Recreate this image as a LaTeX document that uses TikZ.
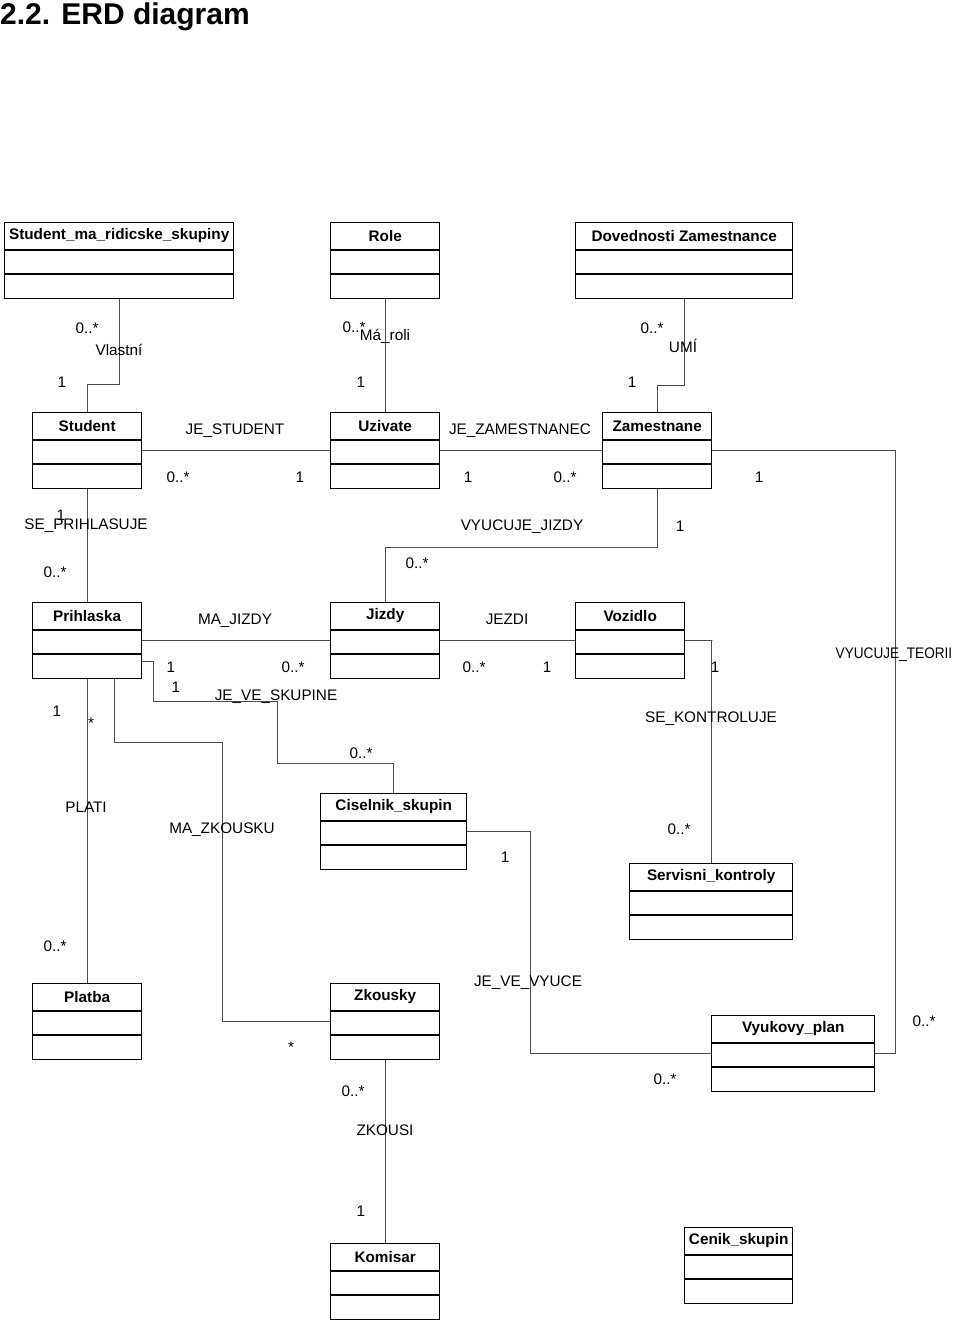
\documentclass[tikz,border=0pt]{standalone}
\usepackage{fontspec}
\setmainfont{Liberation Sans}
\usepackage{tikz}
\usetikzlibrary{calc}

\begin{document}
\begin{tikzpicture}[x=1pt, y=-1pt, every node/.style={font=\fontsize{15.3}{18}\selectfont}]
  % -----------------------------
  % SETTINGS
  % -----------------------------
  \def\hh{28}   % header height
  \def\ch{24}   % compartment height

  % -----------------------------
  % STYLES
  % -----------------------------
  \tikzset{
    ent/.style={draw=black, line width=1.4pt, inner sep=0pt, minimum height=76pt, anchor=north west},
    enttitle/.style={font=\fontsize{15.3}{18}\selectfont\bfseries, inner sep=0pt},
    entline/.style={black, line width=1.4pt},
    conn/.style={black!70, line width=1.2pt},
    lbl/.style={inner sep=0pt, text height=11pt, text depth=0pt},
  }

  \useasboundingbox (0,0) rectangle (960,1323);

  % Heading
  \node[font=\fontsize{30}{36}\selectfont\bfseries, inner sep=0pt, anchor=base west] (head) at (0,24) {2.2. ERD diagram};

  % -----------------------------
  % ENTITIES (left x, top y, width)
  % -----------------------------
  \foreach \n/\x/\y/\w/\t in {
      smrs/4/222/229/Student\_ma\_ridicske\_skupiny,
      role/330/222/109/Role,
      dov/575/222/217/Dovednosti Zamestnance,
      student/32/412/109/Student,
      uziv/330/412/109/Uzivate,
      zam/602/412/109/Zamestnane,
      prih/32/602/109/Prihlaska,
      jizdy/330/602/109/Jizdy,
      voz/575/602/109/Vozidlo,
      cis/320/793/146/Ciselnik\_skupin,
      serv/629/863/163/Servisni\_kontroly,
      platba/32/983/109/Platba,
      zkou/330/983/109/Zkousky,
      vyuk/711/1015/163/Vyukovy\_plan,
      komis/330/1243/109/Komisar,
      cenik/684/1227/108/Cenik\_skupin} {
    \node[ent, minimum width=\w pt] (\n) at (\x,\y) {};
    \node[enttitle] (\n-t) at ($(\n.north)+(0,14)$) {\t};
    \draw[entline] ($(\n.north west)+(0,\hh)$) -- ($(\n.north east)+(0,\hh)$);
    \draw[entline] ($(\n.north west)+(0,\hh+\ch)$) -- ($(\n.north east)+(0,\hh+\ch)$);
  }

  % -----------------------------
  % RELATIONSHIPS
  % -----------------------------
  \draw[conn] (smrs.south) -- ++(0,85) -| (student.north);
  \draw[conn] (role.south) -- (uziv.north);
  \draw[conn] (dov.south) -- ++(0,86) -| (zam.north);
  \draw[conn] (student.east) -- (uziv.west);
  \draw[conn] (uziv.east) -- (zam.west);
  \draw[conn] (zam.south) -- ++(0,58) -| (jizdy.north);
  \draw[conn] (student.south) -- (prih.north);
  \draw[conn] (zam.east) -- ++(183,0) |- (vyuk.east);
  \draw[conn] (prih.east) -- (jizdy.west);
  \draw[conn] (jizdy.east) -- (voz.west);
  \draw[conn] (voz.east) -- ++(27,0) -| (serv.north);
  \draw[conn] ($(prih.south east)+(0,-18)$) -- ++(11,0) -- ++(0,40) -- ++(124,0) -- ++(0,62) -| (cis.north);
  \draw[conn] (prih.south) -- (platba.north);
  \draw[conn] ($(prih.south)+(27.5,0)$) -- ++(0,63) -- ++(108,0) |- (zkou.west);
  \draw[conn] (cis.east) -- ++(63,0) |- (vyuk.west);
  \draw[conn] (zkou.south) -- (komis.north);

  % Relationship names
  \foreach [count=\k] \x/\y/\t in {
      119/350/Vlastní, 385/335/Má\_roli, 683/347/UMÍ,
      235/429/JE\_STUDENT, 520/429/JE\_ZAMESTNANEC,
      86/524/SE\_PRIHLASUJE, 522/525/VYUCUJE\_JIZDY,
      235/619/MA\_JIZDY, 507/619/JEZDI, 894/653/{\scalebox{0.89}[1]{VYUCUJE\_TEORII}},
      276/695/JE\_VE\_SKUPINE, 711/717/SE\_KONTROLUJE,
      86/807/PLATI, 222/828/MA\_ZKOUSKU, 528/981/JE\_VE\_VYUCE,
      385/1130/ZKOUSI} {
    \node[lbl] (r\k) at (\x,\y) {\t};
  }

  % Multiplicities
  \foreach [count=\k] \x/\y/\t in {
      87/328/0..*, 62/382/1, 354/327/0..*, 361/382/1, 652/328/0..*, 632/382/1,
      178/477/0..*, 300/477/1, 468/477/1, 565/477/0..*, 759/477/1,
      61/515/1, 55/572/0..*, 680/526/1, 417/563/0..*,
      171/667/1, 293/667/0..*, 474/667/0..*, 547/667/1, 715/667/1, 176/687/1,
      57/711/1, 91/723/*, 361/753/0..*,
      679/829/0..*, 505/857/1, 55/946/0..*,
      924/1021/0..*, 291/1047/*, 665/1079/0..*, 353/1091/0..*, 361/1211/1} {
    \node[lbl] (m\k) at (\x,\y) {\t};
  }
\end{tikzpicture}
\end{document}
